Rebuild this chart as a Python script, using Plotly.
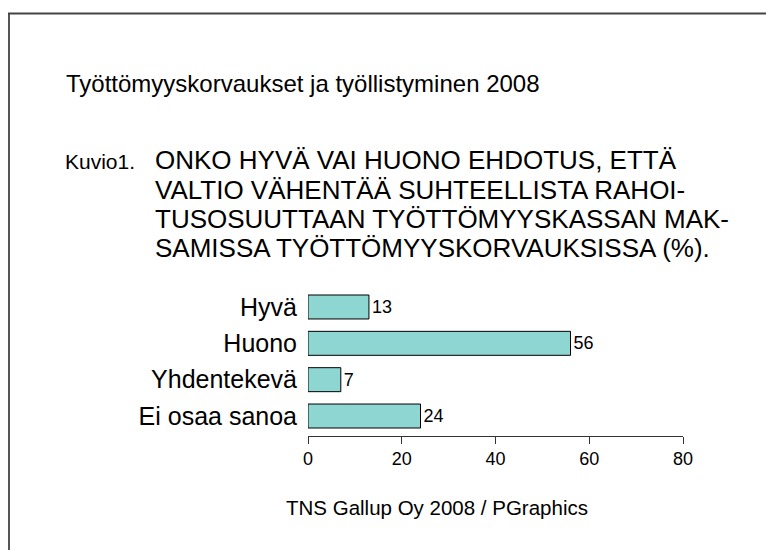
import plotly.graph_objects as go

categories = ["Hyvä", "Huono", "Yhdentekevä", "Ei osaa sanoa"]
values = [13, 56, 7, 24]
x_ticks = [0, 20, 40, 60, 80]
title_top = "Työttömyyskorvaukset ja työllistyminen 2008"
fig_label = "Kuvio1."
question_lines = [
    "ONKO HYVÄ VAI HUONO EHDOTUS, ETTÄ",
    "VALTIO VÄHENTÄÄ SUHTEELLISTA RAHOI-",
    "TUSOSUUTTAAN TYÖTTÖMYYSKASSAN MAK-",
    "SAMISSA TYÖTTÖMYYSKORVAUKSISSA (%).",
]
source = "TNS Gallup Oy 2008 / PGraphics"

OFF = 8  # browser body margin
W, H = 774 - OFF, 550 - OFF
# plot area in page (reference) pixels
L, R, T, B = 308, 683, 287, 436

def px(x):
    return (x - L) / (R - L)

def py(y):
    return (B - y) / (B - T)

FONT = "Liberation Sans, Arial, sans-serif"

fig = go.Figure()
fig.add_trace(go.Bar(
    y=list(range(len(categories))),
    x=values,
    orientation="h",
    width=0.66,
    marker=dict(color="#8ed6d1", line=dict(color="#000000", width=1)),
    text=[str(v) for v in values],
    textposition="outside",
    textfont=dict(size=18, color="#000000", family=FONT),
    cliponaxis=False,
    hoverinfo="skip",
))

fig.update_layout(
    width=W, height=H,
    margin=dict(l=L - OFF, r=W - (R - OFF), t=T - OFF, b=H - (B - OFF), pad=0),
    paper_bgcolor="white", plot_bgcolor="white",
    showlegend=False,
    font=dict(family=FONT, color="#000000"),
)
fig.update_xaxes(
    range=[0, 80], tickvals=x_ticks, ticks="outside", ticklen=7, tickcolor="#333",
    showline=True, linecolor="#333", linewidth=1, showgrid=False, zeroline=False,
    tickfont=dict(size=18, family=FONT), ticklabelstandoff=-1, fixedrange=True,
)
fig.update_yaxes(
    range=[3.55, -0.55], tickvals=list(range(len(categories))), ticktext=categories,
    ticks="", showline=False, showgrid=False, zeroline=False,
    tickfont=dict(size=25, family=FONT), ticklabelstandoff=10, fixedrange=True,
)

def ann(text, x, y, size, xa="left"):
    fig.add_annotation(text=text, x=px(x), y=py(y), xref="paper", yref="paper",
                       xanchor=xa, yanchor="middle", showarrow=False, align="left",
                       font=dict(size=size, family=FONT, color="#000000"))

ann(title_top, 64, 84, 24)
ann(fig_label, 63, 161, 21)
for line, yy in zip(question_lines, [160, 190, 219, 248]):
    ann(line, 153, yy, 26)
ann(source, 437, 507, 20.5, xa="center")

fig.add_shape(type="line", xref="paper", yref="paper", x0=px(9), x1=px(9), y0=py(13), y1=py(560),
              line=dict(color="#555555", width=2))
fig.add_shape(type="line", xref="paper", yref="paper", x0=px(8), x1=px(790), y0=py(13.5), y1=py(13.5),
              line=dict(color="#444444", width=2))

fig.write_html("out.html", config={"displayModeBar": False})
